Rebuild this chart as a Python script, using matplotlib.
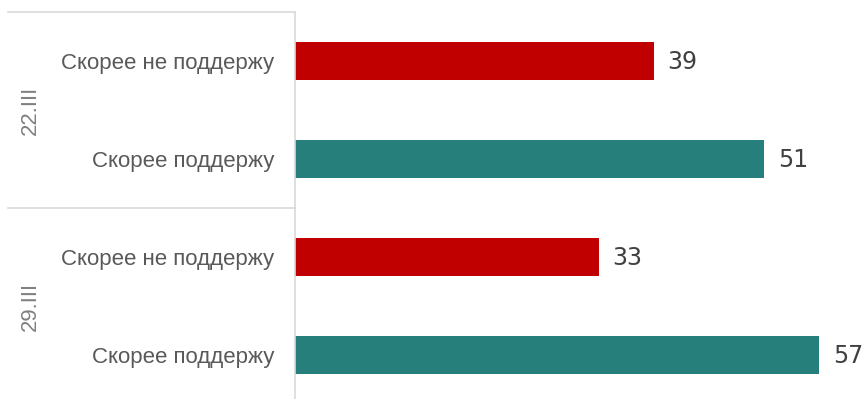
import matplotlib.pyplot as plt
import matplotlib.transforms as mtransforms

# data
groups = ["22.III", "29.III"]
categories = ["Скорее не поддержу", "Скорее поддержу"]
values = [39, 51, 33, 57]
colors = ["#C00000", "#277F7C", "#C00000", "#277F7C"]

plt.rcParams["font.family"] = ["Liberation Sans", "DejaVu Sans"]

W, H = 867, 399
fig = plt.figure(figsize=(W / 100, H / 100), dpi=100)
left_px, top_px = 295, 12
xmax = 62
px_per_unit = 9.2
ax_w = xmax * px_per_unit
ax_h = 4 * 98
ax = fig.add_axes([left_px / W, 1 - (top_px + ax_h) / H, ax_w / W, ax_h / H])

ypos = list(range(len(values)))
ax.barh(ypos, values, height=0.39, color=colors)
ax.set_xlim(0, xmax)
ax.set_ylim(3.5, -0.5)

# value labels
for y, v in zip(ypos, values):
    ax.annotate(str(v), (v, y), xytext=(10, -1), textcoords="offset points",
                va="center", ha="left", fontsize=17, color="#404040",
                family="DejaVu Sans")

for s in ["top", "right", "bottom"]:
    ax.spines[s].set_visible(False)
ax.spines["left"].set_color("#d9d9d9")
ax.spines["left"].set_linewidth(1.2)
ax.set_xticks([])
ax.set_yticks(ypos)
ax.set_yticklabels(categories * len(groups), fontsize=16, color="#595959")
ax.tick_params(axis="y", length=0, pad=21 * 0.72)

# group separators and labels
trans = mtransforms.blended_transform_factory(ax.transAxes, ax.transData)
x0 = (8 - left_px) / ax_w
for yline in [-0.5, 1.5]:
    ax.plot([x0, 0], [yline, yline], color="#d9d9d9", lw=1.2,
            transform=trans, clip_on=False)
for i, g in enumerate(groups):
    ax.text((30 - left_px) / ax_w, 2 * i + 0.5, g, transform=trans,
            rotation=90, ha="center", va="center", fontsize=16,
            color="#808080")

fig.savefig("out.png", dpi=100)
